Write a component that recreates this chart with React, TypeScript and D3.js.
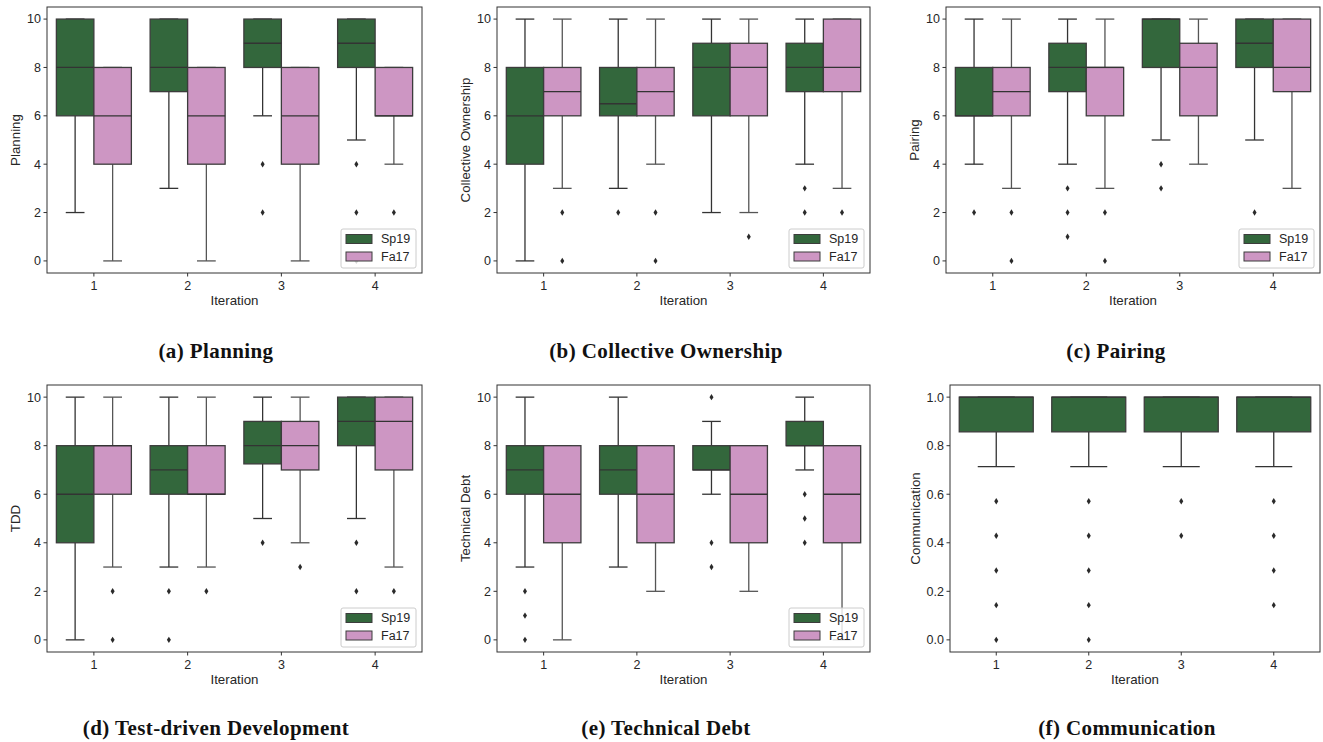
import { useEffect, useRef } from 'react'
import * as d3 from 'd3'

// [whisker low, q1, median, q3, whisker high, outliers]
type Stat = [number, number, number, number, number, number[]]

const iterations = ['1', '2', '3', '4']
const seriesNames = ['Sp19', 'Fa17']
const scoreTicks = [0, 2, 4, 6, 8, 10]
const commTicks = [0, 0.2, 0.4, 0.6, 0.8, 1.0]

const planningSp19: Stat[] = [[2, 6, 8, 10, 10, []], [3, 7, 8, 10, 10, []], [6, 8, 9, 10, 10, [4, 2]], [5, 8, 9, 10, 10, [4, 2, 0]]]
const planningFa17: Stat[] = [[0, 4, 6, 8, 8, []], [0, 4, 6, 8, 8, []], [0, 4, 6, 8, 8, []], [4, 6, 6, 8, 8, [2]]]

const ownershipSp19: Stat[] = [[0, 4, 6, 8, 10, []], [3, 6, 6.5, 8, 10, [2]], [2, 6, 8, 9, 10, []], [4, 7, 8, 9, 10, [3, 2]]]
const ownershipFa17: Stat[] = [[3, 6, 7, 8, 10, [2, 0]], [4, 6, 7, 8, 10, [2, 0]], [2, 6, 8, 9, 10, [1]], [3, 7, 8, 10, 10, [2]]]

const pairingSp19: Stat[] = [[4, 6, 6, 8, 10, [2]], [4, 7, 8, 9, 10, [3, 2, 1]], [5, 8, 10, 10, 10, [4, 3]], [5, 8, 9, 10, 10, [2]]]
const pairingFa17: Stat[] = [[3, 6, 7, 8, 10, [2, 0]], [3, 6, 8, 8, 10, [2, 0]], [4, 6, 8, 9, 10, []], [3, 7, 8, 10, 10, []]]

const tddSp19: Stat[] = [[0, 4, 6, 8, 10, []], [3, 6, 7, 8, 10, [2, 0]], [5, 7.25, 8, 9, 10, [4]], [5, 8, 9, 10, 10, [4, 2]]]
const tddFa17: Stat[] = [[3, 6, 8, 8, 10, [2, 0]], [3, 6, 6, 8, 10, [2]], [4, 7, 8, 9, 10, [3]], [3, 7, 9, 10, 10, [2]]]

const debtSp19: Stat[] = [[3, 6, 7, 8, 10, [2, 1, 0]], [3, 6, 7, 8, 10, []], [6, 7, 7, 8, 9, [10, 4, 3]], [7, 8, 8, 9, 10, [6, 5, 4]]]
const debtFa17: Stat[] = [[0, 4, 6, 8, 8, []], [2, 4, 6, 8, 8, []], [2, 4, 6, 8, 8, []], [0, 4, 6, 8, 8, []]]

const commSp19: Stat[] = [
  [0.714, 0.857, 1, 1, 1, [0.571, 0.429, 0.286, 0.143, 0]],
  [0.714, 0.857, 1, 1, 1, [0.571, 0.429, 0.286, 0.143, 0]],
  [0.714, 0.857, 1, 1, 1, [0.571, 0.429]],
  [0.714, 0.857, 1, 1, 1, [0.571, 0.429, 0.286, 0.143]],
]

const GREEN = '#33673c'
const PINK = '#cd96c3'
const TEXT = '#262626'
const SANS = '"Liberation Sans", Arial, sans-serif'

interface Panel {
  x0: number; x1: number; y0: number; y1: number
  domain: [number, number]
  ticks: number[]
  fmt: (d: number) => string
  ylabel: string
  ylabelOff: number
  series: Stat[][]
  legend: boolean
  caption: string
  capX: number
  capY: number
}

const fmtInt = (d: number) => d3.format('d')(d)
const fmt1 = (d: number) => d3.format('.1f')(d)

const panels: Panel[] = [
  { x0: 47, x1: 422, y0: 7, y1: 273, domain: [-0.5, 10.5], ticks: scoreTicks, fmt: fmtInt, ylabel: 'Planning', ylabelOff: 27, series: [planningSp19, planningFa17], legend: true, caption: '(a) Planning', capX: 216, capY: 357.5 },
  { x0: 497, x1: 870, y0: 7, y1: 273, domain: [-0.5, 10.5], ticks: scoreTicks, fmt: fmtInt, ylabel: 'Collective Ownership', ylabelOff: 27.5, series: [ownershipSp19, ownershipFa17], legend: true, caption: '(b) Collective Ownership', capX: 666, capY: 357.5 },
  { x0: 946, x1: 1320, y0: 7, y1: 273, domain: [-0.5, 10.5], ticks: scoreTicks, fmt: fmtInt, ylabel: 'Pairing', ylabelOff: 27, series: [pairingSp19, pairingFa17], legend: true, caption: '(c) Pairing', capX: 1116, capY: 357.5 },
  { x0: 47, x1: 422, y0: 385, y1: 652, domain: [-0.5, 10.5], ticks: scoreTicks, fmt: fmtInt, ylabel: 'TDD', ylabelOff: 27, series: [tddSp19, tddFa17], legend: true, caption: '(d) Test-driven Development', capX: 216, capY: 735 },
  { x0: 497, x1: 870, y0: 385, y1: 652, domain: [-0.5, 10.5], ticks: scoreTicks, fmt: fmtInt, ylabel: 'Technical Debt', ylabelOff: 27.5, series: [debtSp19, debtFa17], legend: true, caption: '(e) Technical Debt', capX: 666, capY: 735 },
  { x0: 950, x1: 1320, y0: 385, y1: 652, domain: [-0.05, 1.05], ticks: commTicks, fmt: fmt1, ylabel: 'Communication', ylabelOff: 30, series: [commSp19], legend: false, caption: '(f) Communication', capX: 1127, capY: 735 },
]

const colors = [GREEN, PINK]
const lineColors = ['#333333', '#555555']
const diamond = 'M0,-3.2L2,0L0,3.2L-2,0Z'

function drawPanel(svg: d3.Selection<SVGSVGElement, unknown, null, undefined>, p: Panel) {
  const g = svg.append('g')
  const x = d3.scaleBand().domain(iterations).range([p.x0, p.x1])
  const y = d3.scaleLinear().domain(p.domain).range([p.y1, p.y0])
  const bw = x.bandwidth()
  const n = p.series.length
  const hueW = (0.8 * bw) / n

  p.series.forEach((stats, s) => {
    stats.forEach((st, i) => {
      const [lo, q1, med, q3, hi, out] = st
      const left = x(iterations[i])! + bw / 2 - 0.4 * bw + s * hueW
      const c = left + hueW / 2
      const lc = lineColors[s]
      // whiskers
      g.append('line').attr('x1', c).attr('x2', c).attr('y1', y(q1)).attr('y2', y(lo))
        .attr('stroke', lc).attr('stroke-width', 1.3)
      g.append('line').attr('x1', c).attr('x2', c).attr('y1', y(q3)).attr('y2', y(hi))
        .attr('stroke', lc).attr('stroke-width', 1.3)
      for (const v of [lo, hi]) {
        g.append('line').attr('x1', c - hueW / 4).attr('x2', c + hueW / 4).attr('y1', y(v)).attr('y2', y(v))
          .attr('stroke', lc).attr('stroke-width', 1.3)
      }
      // box
      g.append('rect').attr('x', left).attr('y', y(q3)).attr('width', hueW).attr('height', y(q1) - y(q3))
        .attr('fill', colors[s]).attr('stroke', '#3c3c3c').attr('stroke-width', 1.3)
      g.append('line').attr('x1', left).attr('x2', left + hueW).attr('y1', y(med)).attr('y2', y(med))
        .attr('stroke', '#333').attr('stroke-width', 1.3)
      // outliers
      for (const o of out) {
        g.append('path').attr('d', diamond).attr('transform', `translate(${c},${y(o)})`).attr('fill', '#2a2a2a')
      }
    })
  })

  // frame
  g.append('rect').attr('x', p.x0).attr('y', p.y0).attr('width', p.x1 - p.x0).attr('height', p.y1 - p.y0)
    .attr('fill', 'none').attr('stroke', '#333').attr('stroke-width', 1)

  // y ticks
  for (const t of p.ticks) {
    g.append('line').attr('x1', p.x0 - 3.5).attr('x2', p.x0).attr('y1', y(t)).attr('y2', y(t))
      .attr('stroke', '#333').attr('stroke-width', 1)
    g.append('text').attr('x', p.x0 - 6).attr('y', y(t)).attr('dy', '0.35em').attr('text-anchor', 'end')
      .attr('font-family', SANS).attr('font-size', '12.5px').attr('fill', TEXT).text(p.fmt(t))
  }
  // x ticks
  for (const it of iterations) {
    const cx = x(it)! + bw / 2
    g.append('line').attr('x1', cx).attr('x2', cx).attr('y1', p.y1).attr('y2', p.y1 + 3.5)
      .attr('stroke', '#333').attr('stroke-width', 1)
    g.append('text').attr('x', cx).attr('y', p.y1 + 16.5).attr('text-anchor', 'middle')
      .attr('font-family', SANS).attr('font-size', '12.5px').attr('fill', TEXT).text(it)
  }

  g.append('text').attr('x', (p.x0 + p.x1) / 2).attr('y', p.y1 + 32).attr('text-anchor', 'middle')
    .attr('font-family', SANS).attr('font-size', '13.3px').attr('fill', TEXT).text('Iteration')
  g.append('text').attr('transform', `translate(${p.x0 - p.ylabelOff},${(p.y0 + p.y1) / 2}) rotate(-90)`)
    .attr('text-anchor', 'middle').attr('font-family', SANS).attr('font-size', '13.3px').attr('fill', TEXT)
    .text(p.ylabel)

  if (p.legend) {
    const lw = 75, lh = 39
    const lx = p.x1 - 6 - lw, ly = p.y1 - 5 - lh
    g.append('rect').attr('x', lx).attr('y', ly).attr('width', lw).attr('height', lh).attr('rx', 2)
      .attr('fill', 'white').attr('fill-opacity', 0.8).attr('stroke', '#cccccc').attr('stroke-width', 1)
    seriesNames.forEach((name, s) => {
      const cy = ly + 10 + s * 17.5
      g.append('rect').attr('x', lx + 5).attr('y', cy - 4.5).attr('width', 26).attr('height', 9)
        .attr('fill', colors[s]).attr('stroke', '#3c3c3c').attr('stroke-width', 1)
      g.append('text').attr('x', lx + 40).attr('y', cy).attr('dy', '0.35em')
        .attr('font-family', SANS).attr('font-size', '12.5px').attr('fill', TEXT).text(name)
    })
  }

  svg.append('text').attr('x', p.capX).attr('y', p.capY).attr('text-anchor', 'middle')
    .attr('font-family', '"Liberation Serif", "Times New Roman", serif').attr('font-weight', 'bold')
    .attr('font-size', '21px').attr('letter-spacing', '0.4px').attr('fill', '#111').text(p.caption)
}

export default function App() {
  const svgRef = useRef<SVGSVGElement>(null)

  useEffect(() => {
    if (!svgRef.current) return
    const svg = d3.select(svgRef.current)
    svg.selectAll('*').remove()
    for (const p of panels) drawPanel(svg, p)
  }, [])

  return (
    <svg ref={svgRef} width={1323} height={742}
      style={{ position: 'absolute', left: 0, top: 0, background: 'white' }} />
  )
}
